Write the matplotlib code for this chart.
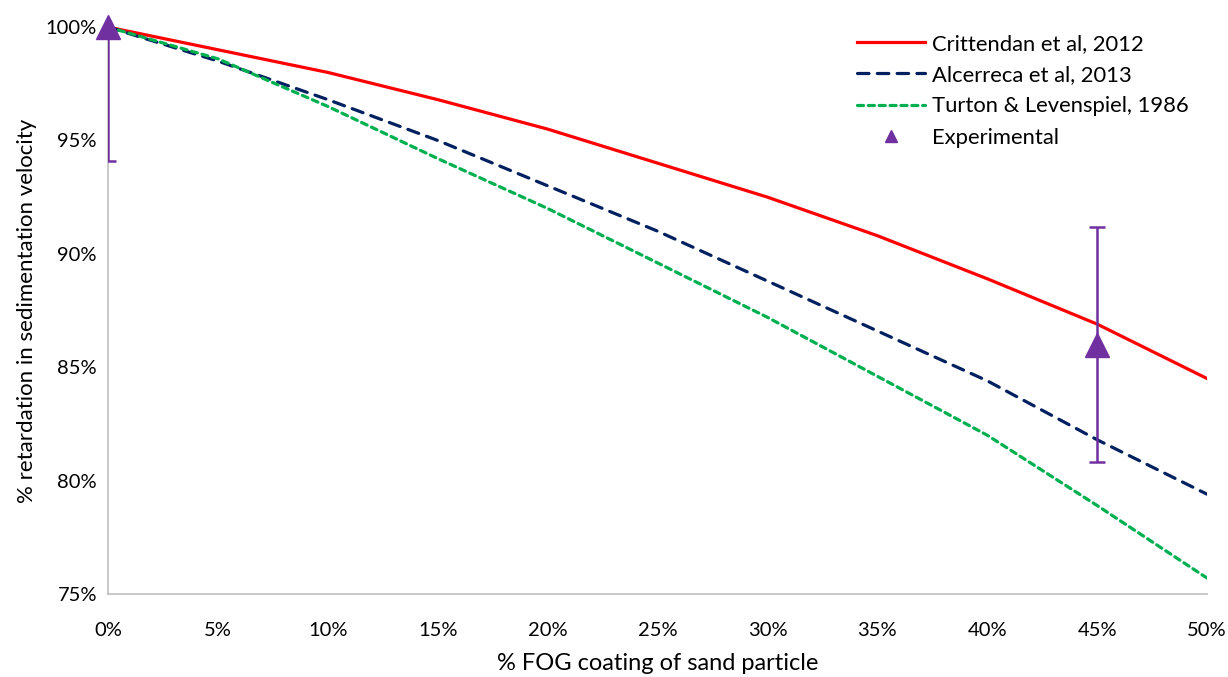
import matplotlib
matplotlib.use("Agg")
import matplotlib.pyplot as plt
from matplotlib.lines import Line2D
from matplotlib.ticker import PercentFormatter

# data (fractions)
fog = [0.0, 0.05, 0.10, 0.15, 0.20, 0.25, 0.30, 0.35, 0.40, 0.45, 0.50]
crittendan = [1.000, 0.990, 0.980, 0.968, 0.955, 0.940, 0.925, 0.908, 0.889, 0.869, 0.845]
alcerreca = [1.000, 0.985, 0.968, 0.950, 0.930, 0.910, 0.888, 0.866, 0.844, 0.818, 0.794]
turton = [1.000, 0.986, 0.965, 0.942, 0.920, 0.896, 0.872, 0.846, 0.820, 0.789, 0.757]

exp_x = [0.0, 0.45]
exp_y = [1.000, 0.860]
exp_err = [0.059, 0.052]

xticks = [0.0, 0.05, 0.10, 0.15, 0.20, 0.25, 0.30, 0.35, 0.40, 0.45, 0.50]
yticks = [0.75, 0.80, 0.85, 0.90, 0.95, 1.00]

purple = '#7030A0'

plt.rcParams['font.family'] = ['Lato', 'DejaVu Sans']

fig = plt.figure(figsize=(12.28, 6.77), dpi=100)
ax = fig.add_axes([0.088, 0.1226, 0.895, 0.8374])

ax.plot(fog, crittendan, color='#FF0000', lw=2.3, solid_capstyle='round')
ax.plot(fog, alcerreca, color='#002060', lw=2.3, dashes=(3.6, 2.6),
        dash_capstyle='round')
ax.plot(fog, turton, color='#00B050', lw=2.3, dashes=(1.9, 1.5),
        dash_capstyle='round')
# error bars clipped to the plot area, markers not
ax.errorbar(exp_x, exp_y, yerr=exp_err, fmt='none', ecolor=purple,
            elinewidth=1.8, capsize=6, capthick=1.8, zorder=4)
ax.plot(exp_x, exp_y, '^', color=purple, ms=17, clip_on=False, zorder=5)

ax.set_xlim(0, 0.5)
ax.set_ylim(0.75, 1.0)
ax.set_xticks(xticks)
ax.set_yticks(yticks)
ax.xaxis.set_major_formatter(PercentFormatter(1.0, decimals=0))
ax.yaxis.set_major_formatter(PercentFormatter(1.0, decimals=0))
ax.tick_params(length=0, labelsize=14.5, colors='#000000')
ax.tick_params(axis='x', pad=20)
ax.tick_params(axis='y', pad=8)

for s in ['top', 'right']:
    ax.spines[s].set_visible(False)
for s in ['left', 'bottom']:
    ax.spines[s].set_color('#BFBFBF')
    ax.spines[s].set_linewidth(1.2)

ax.set_xlabel('% FOG coating of sand particle', fontsize=17, labelpad=10)
ax.set_ylabel('% retardation in sedimentation velocity', fontsize=16, labelpad=6)

handles = [
    Line2D([], [], color='#FF0000', lw=2.3),
    Line2D([], [], color='#002060', lw=2.3, dashes=(3.6, 2.6), dash_capstyle='round'),
    Line2D([], [], color='#00B050', lw=2.3, dashes=(1.9, 1.5), dash_capstyle='round'),
    Line2D([], [], color=purple, marker='^', ms=9, ls='none'),
]
labels = ['Crittendan et al, 2012', 'Alcerreca et al, 2013',
          'Turton & Levenspiel, 1986', 'Experimental']
ax.legend(handles, labels, loc='upper left', bbox_to_anchor=(0.675, 1.0),
          fontsize=15.8, frameon=False, handlelength=3.1, handletextpad=0.35,
          labelspacing=0.52, borderaxespad=0.0, borderpad=0.3)

fig.savefig('out.png', dpi=100)
